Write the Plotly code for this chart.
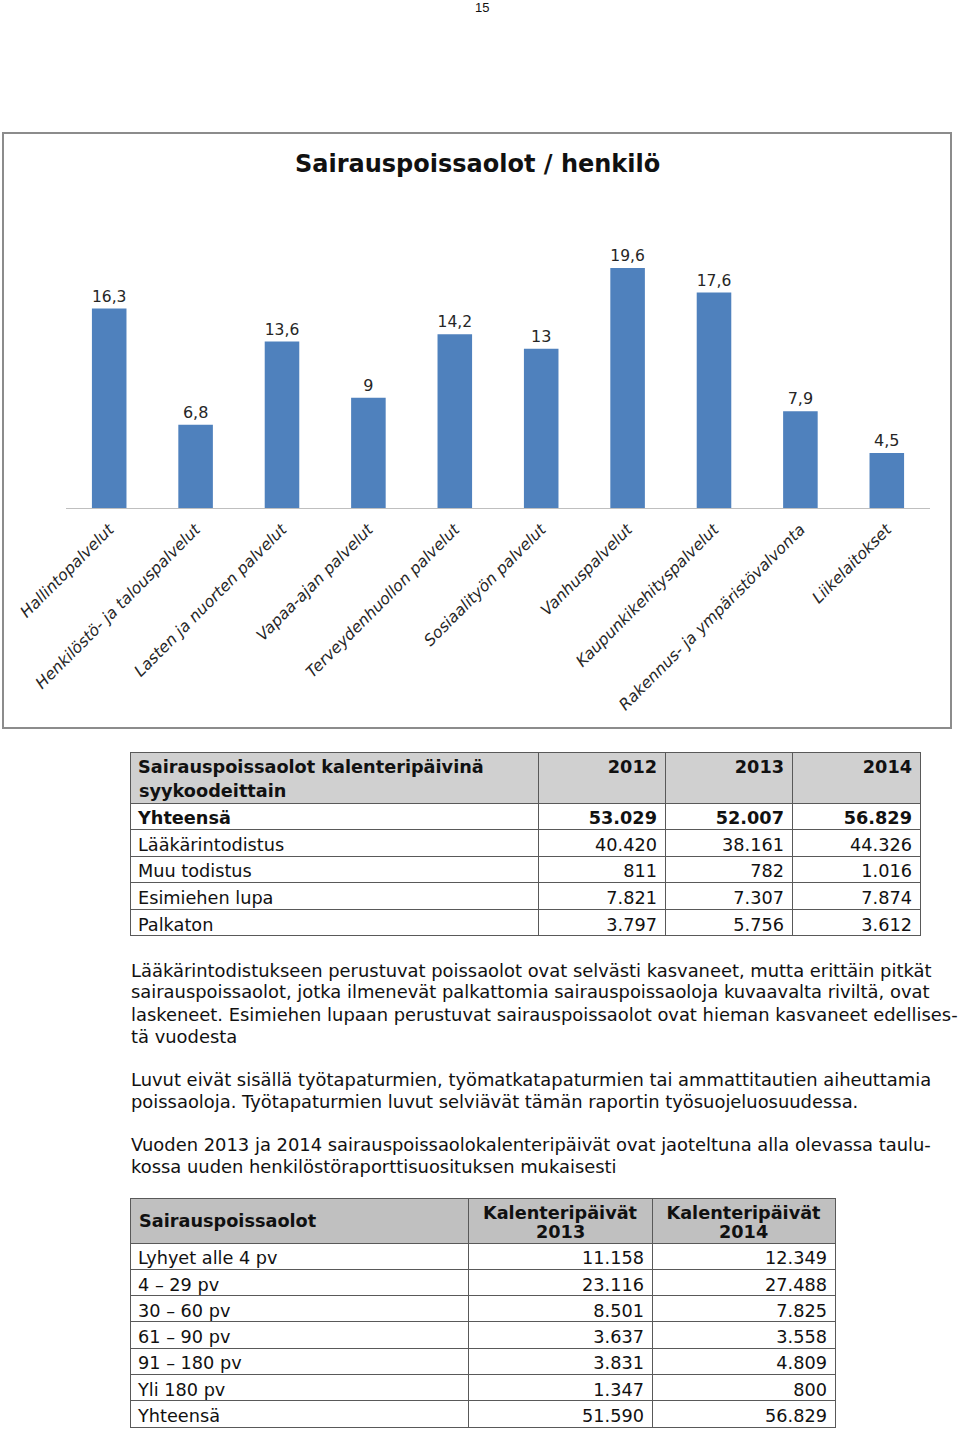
import plotly.graph_objects as go

W, H = 960, 1430


def px(x):
    return x / W


def py(y):
    return 1 - y / H


# ---- data ----
categories = ["Hallintopalvelut", "Henkilöstö- ja talouspalvelut", "Lasten ja nuorten palvelut",
              "Vapaa-ajan palvelut", "Terveydenhuollon palvelut", "Sosiaalityön palvelut",
              "Vanhuspalvelut", "Kaupunkikehityspalvelut", "Rakennus- ja ympäristövalvonta",
              "Liikelaitokset"]
values = [16.3, 6.8, 13.6, 9, 14.2, 13, 19.6, 17.6, 7.9, 4.5]
value_labels = ["16,3", "6,8", "13,6", "9", "14,2", "13", "19,6", "17,6", "7,9", "4,5"]

t1_header_line1 = ["Sairauspoissaolot kalenteripäivinä", "2012", "2013", "2014"]
t1_header_line2 = "syykoodeittain"
t1_rows = ["Yhteensä", "Lääkärintodistus", "Muu todistus", "Esimiehen lupa", "Palkaton"]
t1_2012 = ["53.029", "40.420", "811", "7.821", "3.797"]
t1_2013 = ["52.007", "38.161", "782", "7.307", "5.756"]
t1_2014 = ["56.829", "44.326", "1.016", "7.874", "3.612"]

t2_header_first = "Sairauspoissaolot"
t2_header_line1 = ["", "Kalenteripäivät", "Kalenteripäivät"]
t2_header_years = ["2013", "2014"]
t2_rows = ["Lyhyet alle 4 pv", "4 – 29 pv", "30 – 60 pv", "61 – 90 pv", "91 – 180 pv",
           "Yli 180 pv", "Yhteensä"]
t2_2013 = ["11.158", "23.116", "8.501", "3.637", "3.831", "1.347", "51.590"]
t2_2014 = ["12.349", "27.488", "7.825", "3.558", "4.809", "800", "56.829"]

para1 = ["Lääkärintodistukseen perustuvat poissaolot ovat selvästi kasvaneet, mutta erittäin pitkät",
         "sairauspoissaolot, jotka ilmenevät palkattomia sairauspoissaoloja kuvaavalta riviltä, ovat",
         "laskeneet. Esimiehen lupaan perustuvat sairauspoissaolot ovat hieman kasvaneet edellises-",
         "tä vuodesta"]
para2 = ["Luvut eivät sisällä työtapaturmien, työmatkatapaturmien tai ammattitautien aiheuttamia",
         "poissaoloja. Työtapaturmien luvut selviävät tämän raportin työsuojeluosuudessa."]
para3 = ["Vuoden 2013 ja 2014 sairauspoissaolokalenteripäivät ovat jaoteltuna alla olevassa taulu-",
         "kossa uuden henkilöstöraporttisuosituksen mukaisesti"]

FONT = "DejaVu Sans"
TXT = 17.7      # table text
PTXT = 17.9     # paragraph text
TXT_COLOR = "#111111"
BAR = "#4f81bd"
GRID = "#595959"

fig = go.Figure()

fig.add_trace(go.Bar(
    x=categories, y=values, text=value_labels, textposition="outside",
    textfont=dict(family=FONT, size=16, color="#262626"),
    marker=dict(color=BAR, line=dict(width=0)), width=0.4, cliponaxis=False,
    showlegend=False, hoverinfo="skip"))

# ---- table 1 (title row + total row) ----
T1_X = [px(130), px(920)]
T1_W = [408, 127, 127, 128]
ROW1 = 26.6
fig.add_trace(go.Table(
    domain=dict(x=T1_X, y=[py(832), py(752)]),
    columnwidth=T1_W,
    header=dict(values=t1_header_line1,
                fill_color="#d0d0d0", line=dict(color=GRID, width=1),
                align=["left", "right", "right", "right"],
                font=dict(family=FONT, size=TXT, color=TXT_COLOR, weight="bold"), height=51),
    cells=dict(values=[[t1_rows[0]], [t1_2012[0]], [t1_2013[0]], [t1_2014[0]]],
               fill_color="white", line=dict(color=GRID, width=1),
               align=["left", "right", "right", "right"],
               font=dict(family=FONT, size=TXT, color=TXT_COLOR, weight="bold"), height=ROW1)))

# ---- table 1 (remaining rows) ----
fig.add_trace(go.Table(
    domain=dict(x=T1_X, y=[py(940), py(752 + 51 + ROW1)]),
    columnwidth=T1_W,
    header=dict(values=[t1_rows[1], t1_2012[1], t1_2013[1], t1_2014[1]],
                fill_color="white", line=dict(color=GRID, width=1),
                align=["left", "right", "right", "right"],
                font=dict(family=FONT, size=TXT, color=TXT_COLOR), height=ROW1),
    cells=dict(values=[t1_rows[2:], t1_2012[2:], t1_2013[2:], t1_2014[2:]],
               fill_color="white", line=dict(color=GRID, width=1),
               align=["left", "right", "right", "right"],
               font=dict(family=FONT, size=TXT, color=TXT_COLOR), height=ROW1)))

# ---- table 2 ----
fig.add_trace(go.Table(
    domain=dict(x=[px(130), px(835)], y=[py(1430), py(1198)]),
    columnwidth=[338, 184, 183],
    header=dict(values=t2_header_line1,
                fill_color="#c0c0c0", line=dict(color=GRID, width=1),
                align=["left", "center", "center"],
                font=dict(family=FONT, size=TXT, color=TXT_COLOR, weight="bold"), height=45),
    cells=dict(values=[t2_rows, t2_2013, t2_2014],
               fill_color="white", line=dict(color=GRID, width=1),
               align=["left", "right", "right"],
               font=dict(family=FONT, size=TXT, color=TXT_COLOR), height=26.3)))

annotations = []


def ann(text, x, y, size=TXT, bold=False, xanchor="center", family=FONT):
    annotations.append(dict(text=text, x=px(x), y=py(y), xref="paper", yref="paper",
                            xanchor=xanchor, yanchor="middle", showarrow=False,
                            font=dict(family=family, size=size, color=TXT_COLOR,
                                      weight="bold" if bold else "normal")))


ann("15", 482, 7, size=13, family="Liberation Sans")
ann("Sairauspoissaolot / henkilö", 477, 164, size=24, bold=True)
ann(t1_header_line2, 137, 791, bold=True, xanchor="left")
ann(t2_header_first, 137, 1221, bold=True, xanchor="left")
ann(t2_header_years[0], 560, 1232, bold=True)
ann(t2_header_years[1], 743.5, 1232, bold=True)


def add_para(lines, y0):
    for i, line in enumerate(lines):
        ann(line, 129, y0 + 22 * i, size=PTXT, xanchor="left")


add_para(para1, 970)
add_para(para2, 1079)
add_para(para3, 1144)

fig.update_layout(
    width=W, height=H, margin=dict(l=0, r=0, t=0, b=0, autoexpand=False),
    paper_bgcolor="white", plot_bgcolor="white",
    annotations=annotations,
    shapes=[dict(type="rect", xref="paper", yref="paper", x0=px(3), x1=px(951), y0=py(133), y1=py(728),
                 line=dict(color="#8c8c8c", width=2), fillcolor="rgba(0,0,0,0)", layer="below")],
    xaxis=dict(domain=[px(66), px(930)], showline=True, linecolor="#bfbfbf", linewidth=1,
               ticks="", tickangle=-45, showgrid=False, zeroline=False, automargin=False,
               ticklabelstandoff=5,
               tickfont=dict(family=FONT, size=15.8, color="#262626", style="italic")),
    yaxis=dict(domain=[py(508), py(238.7)], range=[0, 22], visible=False, showgrid=False,
               zeroline=False, automargin=False),
    bargap=0.6,
)

fig.write_html("out.html")
